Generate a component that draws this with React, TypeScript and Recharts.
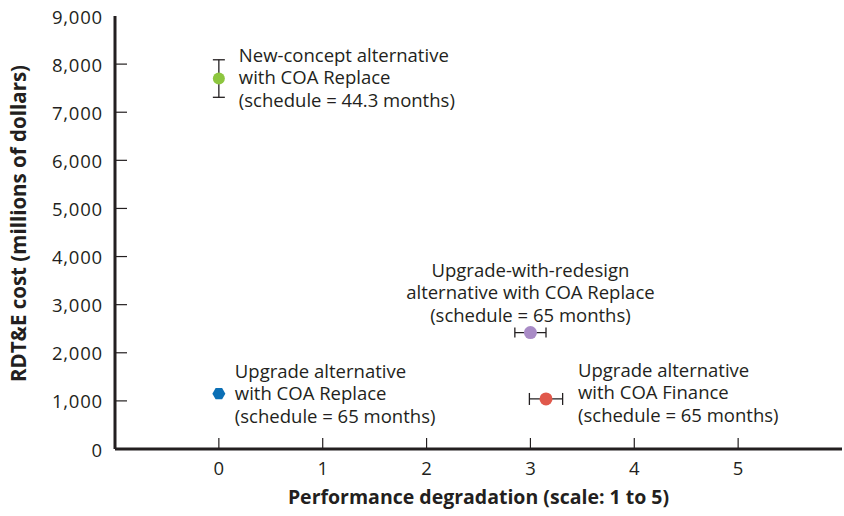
import React from 'react';
import { ScatterChart, Scatter, XAxis, YAxis, ErrorBar, Label } from 'recharts';

// ---- data ----
const xTicks = [0, 1, 2, 3, 4, 5];
const yTicks = [0, 1000, 2000, 3000, 4000, 5000, 6000, 7000, 8000, 9000];

const newConcept = [{ x: 0, y: 7700, yErr: 390 }];
const upgradeReplace = [{ x: 0, y: 1150 }];
const redesignReplace = [{ x: 3, y: 2420, xErr: 0.15 }];
const upgradeFinance = [{ x: 3.15, y: 1040, xErr: 0.16 }];

const newConceptText = ['New-concept alternative', 'with COA Replace', '(schedule = 44.3 months)'];
const upgradeReplaceText = ['Upgrade alternative', 'with COA Replace', '(schedule = 65 months)'];
const redesignReplaceText = ['Upgrade-with-redesign', 'alternative with COA Replace', '(schedule = 65 months)'];
const upgradeFinanceText = ['Upgrade alternative', 'with COA Finance', '(schedule = 65 months)'];

// ---- styles ----
const INK = '#231F20';
const FONT = '"Open Sans", "DejaVu Sans", sans-serif';
const TEXT_SIZE = 18.5;
const LINE_H = 22.5;

const fmt = (v: number) => v.toLocaleString('en-US');

const Annotation = ({ x, y, lines, anchor }: { x: number; y: number; lines: string[]; anchor: 'start' | 'middle' }) => (
  <text x={x} y={y} fontFamily={FONT} fontSize={TEXT_SIZE} fill={INK} textAnchor={anchor} dominantBaseline="central">
    {lines.map((l, i) => (
      <tspan key={i} x={x} y={y + i * LINE_H}>
        {l}
      </tspan>
    ))}
  </text>
);

const makeCircle = (color: string, r: number, lines: string[], dx: number, dy: number, anchor: 'start' | 'middle') =>
  (props: any) => {
    const { cx, cy } = props;
    return (
      <g>
        <circle cx={cx} cy={cy} r={r} fill={color} />
        <Annotation x={cx + dx} y={cy + dy} lines={lines} anchor={anchor} />
      </g>
    );
  };

const makeHex = (color: string, r: number, lines: string[], dx: number, dy: number) => (props: any) => {
  const { cx, cy } = props;
  const pts = [0, 60, 120, 180, 240, 300]
    .map((a) => {
      const rad = (a * Math.PI) / 180;
      return `${cx + r * Math.cos(rad)},${cy + r * Math.sin(rad)}`;
    })
    .join(' ');
  return (
    <g>
      <polygon points={pts} fill={color} />
      <Annotation x={cx + dx} y={cy + dy} lines={lines} anchor="start" />
    </g>
  );
};

const YTick = (props: any) => {
  const { x, y, payload } = props;
  const v = payload.value;
  return (
    <g>
      {v !== 0 && v !== 9000 && <line x1={x} x2={x + 12} y1={y} y2={y} stroke={INK} strokeWidth={1.2} />}
      <text x={x - 12} y={y} textAnchor="end" dominantBaseline="central" fontFamily={FONT} fontSize={18.5} letterSpacing={0.8} fill={INK}>
        {fmt(v)}
      </text>
    </g>
  );
};

const XTick = (props: any) => {
  const { x, y, payload } = props;
  return (
    <g>
      <line x1={x} x2={x} y1={y} y2={y - 11} stroke={INK} strokeWidth={1.2} />
      <text x={x} y={y + 18} textAnchor="middle" dominantBaseline="central" fontFamily={FONT} fontSize={18.5} fill={INK}>
        {payload.value}
      </text>
    </g>
  );
};

export default function App() {
  return (
    <div style={{ position: 'absolute', left: 0, top: 0, background: '#fff' }}>
      <ScatterChart width={844} height={516} margin={{ top: 16, right: 2, bottom: 0, left: 0 }}>
        <XAxis
          type="number"
          dataKey="x"
          domain={[-1, 6]}
          ticks={xTicks}
          allowDataOverflow
          tickSize={0}
          tickMargin={0}
          tickLine={false}
          tick={<XTick />}
          height={67}
          axisLine={{ stroke: INK, strokeWidth: 3 }}
        >
          <Label
            content={({ viewBox }: any) => (
              <text
                x={viewBox.x + viewBox.width / 2}
                y={viewBox.y + 47}
                textAnchor="middle"
                dominantBaseline="central"
                fontFamily={FONT}
                fontWeight="bold"
                fontSize={19.5}
                fill={INK}
              >
                Performance degradation (scale: 1 to 5)
              </text>
            )}
          />
        </XAxis>
        <YAxis
          type="number"
          dataKey="y"
          domain={[0, 9000]}
          ticks={yTicks}
          allowDataOverflow
          width={115}
          tickSize={0}
          tickMargin={0}
          tickLine={false}
          tick={<YTick />}
          axisLine={{ stroke: INK, strokeWidth: 3 }}
        >
          <Label
            content={({ viewBox }: any) => (
              <text
                x={18}
                y={viewBox.y + viewBox.height / 2 - 9}
                transform={`rotate(-90, 18, ${viewBox.y + viewBox.height / 2 - 9})`}
                textAnchor="middle"
                dominantBaseline="central"
                fontFamily={FONT}
                fontWeight="bold"
                fontSize={20.5}
                fill={INK}
              >
                RDT&amp;E cost (millions of dollars)
              </text>
            )}
          />
        </YAxis>
        <Scatter data={newConcept} isAnimationActive={false} shape={makeCircle('#8DC63F', 6, newConceptText, 20, -25, 'start')}>
          <ErrorBar dataKey="yErr" direction="y" width={6} stroke={INK} strokeWidth={1.3} />
        </Scatter>
        <Scatter data={upgradeReplace} isAnimationActive={false} shape={makeHex('#0B6FB5', 6.5, upgradeReplaceText, 16, -24)} />
        <Scatter data={redesignReplace} isAnimationActive={false} shape={makeCircle('#A98BC6', 6.5, redesignReplaceText, 0, -64, 'middle')}>
          <ErrorBar dataKey="xErr" direction="x" width={5} stroke={INK} strokeWidth={1.3} />
        </Scatter>
        <Scatter data={upgradeFinance} isAnimationActive={false} shape={makeCircle('#E0584B', 6.5, upgradeFinanceText, 32, -30, 'start')}>
          <ErrorBar dataKey="xErr" direction="x" width={6} stroke={INK} strokeWidth={1.3} />
        </Scatter>
      </ScatterChart>
    </div>
  );
}
